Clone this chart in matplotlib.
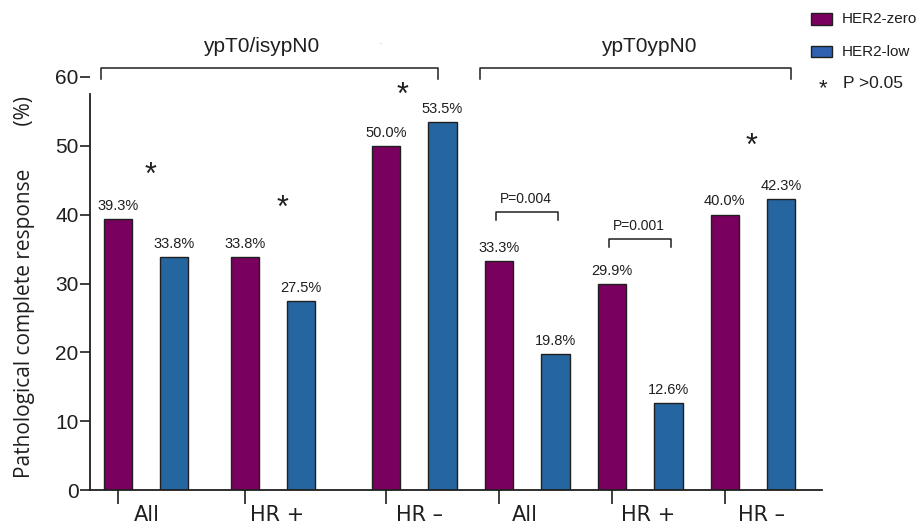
import numpy as np
import matplotlib
matplotlib.use("Agg")
import matplotlib.pyplot as plt
from matplotlib.patches import Rectangle

plt.rcParams["font.family"] = ["Liberation Sans", "DejaVu Sans"]

# pCR rates (%) per subgroup, two endpoints side by side
groups = ["All", "HR +", "HR –", "All", "HR +", "HR –"]
her2_zero = [39.3, 33.8, 50.0, 33.3, 29.9, 40.0]
her2_low = [33.8, 27.5, 53.5, 19.8, 12.6, 42.3]
endpoints = ["ypT0/isypN0", "ypT0ypN0"]
p_values = ["P=0.004", "P=0.001"]
legend_labels = ["HER2-zero", "HER2-low"]

PURPLE = "#7a0060"
BLUE = "#2565a0"
LEGEND_BLUE = "#3060b0"
INK = "#1f1f1f"

# layout (x in bar slots, purple bar centres)
pos = np.array([0.0, 2.25, 4.75, 6.75, 8.75, 10.75])
label_nudge = np.array([0.02, 0.08, 0.1, -0.04, 0.14, 0.14])
width = 0.5

fig = plt.figure(figsize=(9.21, 5.30), dpi=100)
W, H = 921, 530
ax = fig.add_axes([89.5 / W, 40 / H, (822 - 89.5) / W, (490 - 77) / H])

ax.bar(pos, her2_zero, width, color=PURPLE, edgecolor=INK, linewidth=1.0, zorder=2)
ax.bar(pos + 1, her2_low, width, color=BLUE, edgecolor=INK, linewidth=1.0, zorder=2)

for x, v in list(zip(pos, her2_zero)) + list(zip(pos + 1, her2_low)):
    ax.annotate(f"{v:.1f}%", (x, v), xytext=(0, 9.5), textcoords="offset points",
                ha="center", va="center", fontsize=10.5, color=INK)

ax.set_xlim(-0.5, 12.47)
ax.set_ylim(0, 60)
ax.set_yticks(range(0, 61, 10))
ax.tick_params(axis="y", direction="out", length=7, width=1.2, pad=1,
               labelsize=15, colors=INK)

# ticks under the HER2-zero bars, labels under each pair
ax.set_xticks(pos)
ax.set_xticklabels([])
ax.tick_params(axis="x", which="major", direction="out", length=10, width=1.2, colors=INK)
ax.set_xticks(pos + 0.5 + label_nudge, minor=True)
ax.set_xticklabels(groups, minor=True, fontsize=15, family="DejaVu Sans")
ax.tick_params(axis="x", which="minor", length=0, pad=11, colors=INK)

for side in ("top", "right"):
    ax.spines[side].set_visible(False)
for side in ("left", "bottom"):
    ax.spines[side].set_color(INK)
    ax.spines[side].set_linewidth(1.3)
ax.spines["left"].set_bounds(0, 57.6)

fig.text(25 / W, 1 - 287 / H, "Pathological complete response" + " " * 8 + "(%)",
         rotation=90, ha="center", va="center", fontsize=15, family="Open Sans", color=INK)

# endpoint brackets across the top
for (x0, x1), title, tx in zip([(-0.29, 5.67), (6.42, 11.92)], endpoints, [2.54, 9.41]):
    ax.plot([x0, x0, x1, x1], [59.7, 61.3, 61.3, 59.7], color=INK, lw=1.1, clip_on=False)
    ax.text(tx, 64.4, title, ha="center", va="center", fontsize=15, color=INK, clip_on=False)

# significant comparisons
for x, y, label in zip(pos[[3, 4]], [40.4, 36.5], p_values):
    ax.plot([x - 0.05, x - 0.05, x + 1.05, x + 1.05], [y - 1.2, y, y, y - 1.2],
            color=INK, lw=1.1)
    ax.text(x + 0.48, y + 1.9, label, ha="center", va="center", fontsize=10, color=INK)

# non-significant markers
for x, y in [(0.575, 47.1), (2.91, 42.3), (5.05, 58.7), (11.23, 51.3)]:
    ax.annotate("*", (x, y), xytext=(0, -0.58 * 22), textcoords="offset points",
                ha="center", va="baseline", fontsize=22, color=INK, annotation_clip=False)

fig.text(380 / W, 1 - 43 / H, ".", ha="center", va="center", fontsize=5, color="#888888")

# legend
for (y0, y1), color, label in zip([(13, 25), (46, 57)], [PURPLE, LEGEND_BLUE], legend_labels):
    fig.patches.append(Rectangle((811 / W, 1 - y1 / H), 21 / W, (y1 - y0) / H,
                                 transform=fig.transFigure, facecolor=color,
                                 edgecolor=INK, linewidth=1.0))
    fig.text(842 / W, 1 - (y0 + y1) / 2 / H, label, ha="left", va="center",
             fontsize=11, color=INK)
fig.text(823 / W, 1 - (81 + 0.58 * 22) / H, "*", ha="center", va="baseline",
         fontsize=16, color=INK)
fig.text(843 / W, 1 - 83 / H, "P >0.05", ha="left", va="center", fontsize=12.5, color=INK)

fig.savefig("out.png", dpi=100)
